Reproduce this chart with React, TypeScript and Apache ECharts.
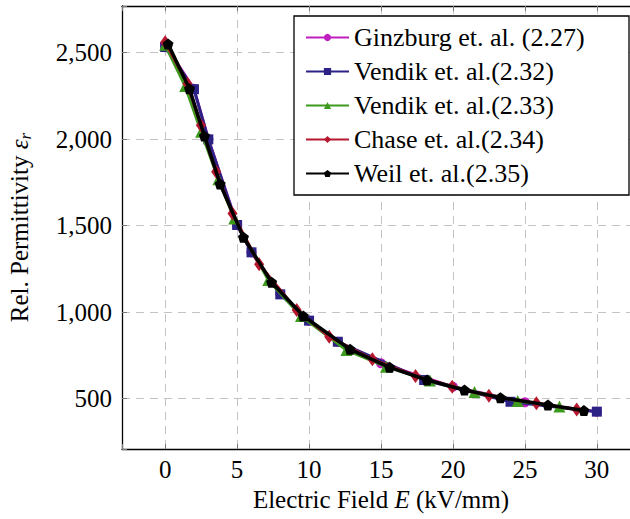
import React, { useEffect, useRef } from "react";
import * as echarts from "echarts";

const FONT = '"Liberation Serif", "Times New Roman", serif';

const X_TICKS = [0, 5, 10, 15, 20, 25, 30];
const Y_TICKS = [500, 1000, 1500, 2000, 2500];

const SERIES_NAMES = [
  "Ginzburg et. al. (2.27)",
  "Vendik et. al.(2.32)",
  "Vendik et. al.(2.33)",
  "Chase et. al.(2.34)",
  "Weil et. al.(2.35)",
];

const ginzburgX = [0, 2, 3, 5, 6, 8, 10, 12, 15, 20, 25, 30];
const ginzburgY = [2545, 2290, 2000, 1505, 1345, 1105, 950, 828, 703, 568, 478, 424];

const vendik32X = [0, 2, 3, 5, 6, 8, 10, 12, 18, 24, 30];
const vendik32Y = [2532, 2288, 1998, 1503, 1345, 1102, 950, 828, 607, 481, 424];

const vendik33X = [0, 1.39, 2.5, 3.7, 4.8, 7.17, 9.44, 12.6, 15.35, 18.4, 21.5, 24.5, 27.4];
const vendik33Y = [2545, 2306, 2042, 1767, 1541, 1185, 977, 780, 684, 604, 537, 486, 453];

const chaseX = [0, 1.55, 2.48, 3.54, 4.68, 6.53, 9.14, 11.4, 14.4, 17.4, 19.95, 22.5, 25.8, 28.6];
const chaseY = [2560, 2320, 2079, 1811, 1570, 1276, 1012, 857, 727, 630, 568, 516, 472, 437];

const weilX = [0.2, 1.69, 2.73, 3.82, 5.44, 7.4, 9.6, 12.85, 15.6, 18.2, 20.8, 23.3, 26.6, 29.1];
const weilY = [2549, 2291, 2017, 1740, 1432, 1172, 977, 784, 680, 607, 549, 505, 462, 430];

const COLORS = ["#bf1fbf", "#2c2185", "#3d9a1f", "#b5182f", "#000000"];

const PENTAGON = "path://M0,-1 L0.951,-0.309 L0.588,0.809 L-0.588,0.809 L-0.951,-0.309 Z";

const pairs = (xs: number[], ys: number[]) => xs.map((x, i) => [x, ys[i]]);

export default function App() {
  const ref = useRef<HTMLDivElement>(null);
  useEffect(() => {
    if (!ref.current) return;
    const chart = echarts.init(ref.current, null, { renderer: "svg" });
    const axisText = { fontFamily: FONT, fontSize: 25, color: "#000" };
    const grid = { show: true, lineStyle: { color: "#c4c4c4", type: [8, 6] as any, width: 1 } };
    const tick = { show: true, inside: true, length: 5, lineStyle: { color: "#777", width: 1 } };
    const line = { show: true, onZero: false, lineStyle: { color: "#000", width: 1.3 } };
    const mk = (
      idx: number,
      xs: number[],
      ys: number[],
      symbol: string,
      size: number | number[],
      width: number
    ) => ({
      name: SERIES_NAMES[idx],
      type: "line",
      data: pairs(xs, ys),
      symbol,
      symbolSize: size,
      showAllSymbol: true,
      color: COLORS[idx],
      lineStyle: { color: COLORS[idx], width },
      itemStyle: { color: COLORS[idx] },
      z: 2 + idx,
    });
    chart.setOption({
      animation: false,
      backgroundColor: "#fff",
      grid: {
        left: 122,
        top: 6,
        width: 518,
        height: 443,
        containLabel: false,
        outerBoundsMode: "none",
      },
      xAxis: [
        {
          type: "value",
          min: -3,
          max: 33,
          splitNumber: 7,
          minInterval: 5,
          maxInterval: 5,
          axisLine: line,
          axisTick: tick,
          splitLine: grid,
          axisLabel: {
            ...axisText,
            margin: 8,
            formatter: (v: number) => (X_TICKS.includes(v) ? String(v) : ""),
          },
          name: "Electric Field {i|E} (kV/mm)",
          nameLocation: "middle",
          nameGap: 38,
          nameTextStyle: {
            ...axisText,
            rich: { i: { ...axisText, fontStyle: "italic" } },
          },
        },
        {
          type: "value",
          position: "top",
          min: -3,
          max: 33,
          splitNumber: 7,
          minInterval: 5,
          maxInterval: 5,
          axisLine: line,
          axisTick: tick,
          splitLine: { show: false },
          axisLabel: { show: false },
        },
      ],
      yAxis: [
        {
          type: "value",
          min: 208,
          max: 2769,
          splitNumber: 5,
          minInterval: 500,
          maxInterval: 500,
          axisLine: line,
          axisTick: tick,
          splitLine: grid,
          axisLabel: {
            ...axisText,
            margin: 10,
            formatter: (v: number) =>
              Y_TICKS.includes(v) ? v.toLocaleString("en-US") : "",
          },
          name: "Rel. Permittivity {i|ε}{s|r}",
          nameLocation: "middle",
          nameGap: 88,
          nameTextStyle: {
            ...axisText,
            lineHeight: 30,
            rich: {
              i: { ...axisText, fontStyle: "italic", lineHeight: 30 },
              s: { ...axisText, fontSize: 17, fontStyle: "italic", verticalAlign: "bottom", lineHeight: 30 },
            },
          },
        },
        {
          type: "value",
          position: "right",
          min: 208,
          max: 2769,
          splitNumber: 5,
          minInterval: 500,
          maxInterval: 500,
          axisLine: line,
          axisTick: tick,
          splitLine: { show: false },
          axisLabel: { show: false },
        },
      ],
      legend: {
        show: true,
        orient: "vertical",
        left: 294,
        top: 16,
        backgroundColor: "#fff",
        borderColor: "#000",
        borderWidth: 1.3,
        padding: [8, 10, 8, 11],
        itemGap: 7,
        itemWidth: 43,
        itemHeight: 9,
        textStyle: {
          fontFamily: FONT,
          fontSize: 26,
          color: "#000",
          lineHeight: 27,
          width: 265,
        },
        data: SERIES_NAMES,
      },
      series: [
        mk(0, ginzburgX, ginzburgY, "circle", 10, 3),
        mk(1, vendik32X, vendik32Y, "rect", 10, 3),
        mk(2, vendik33X, vendik33Y, "triangle", 12, 3),
        mk(3, chaseX, chaseY, "diamond", [10, 14], 3),
        mk(4, weilX, weilY, PENTAGON, 11, 3.5),
      ],
    });
    return () => chart.dispose();
  }, []);
  return (
    <div
      ref={ref}
      style={{ position: "fixed", left: 0, top: 0, width: 630, height: 519 }}
    />
  );
}
